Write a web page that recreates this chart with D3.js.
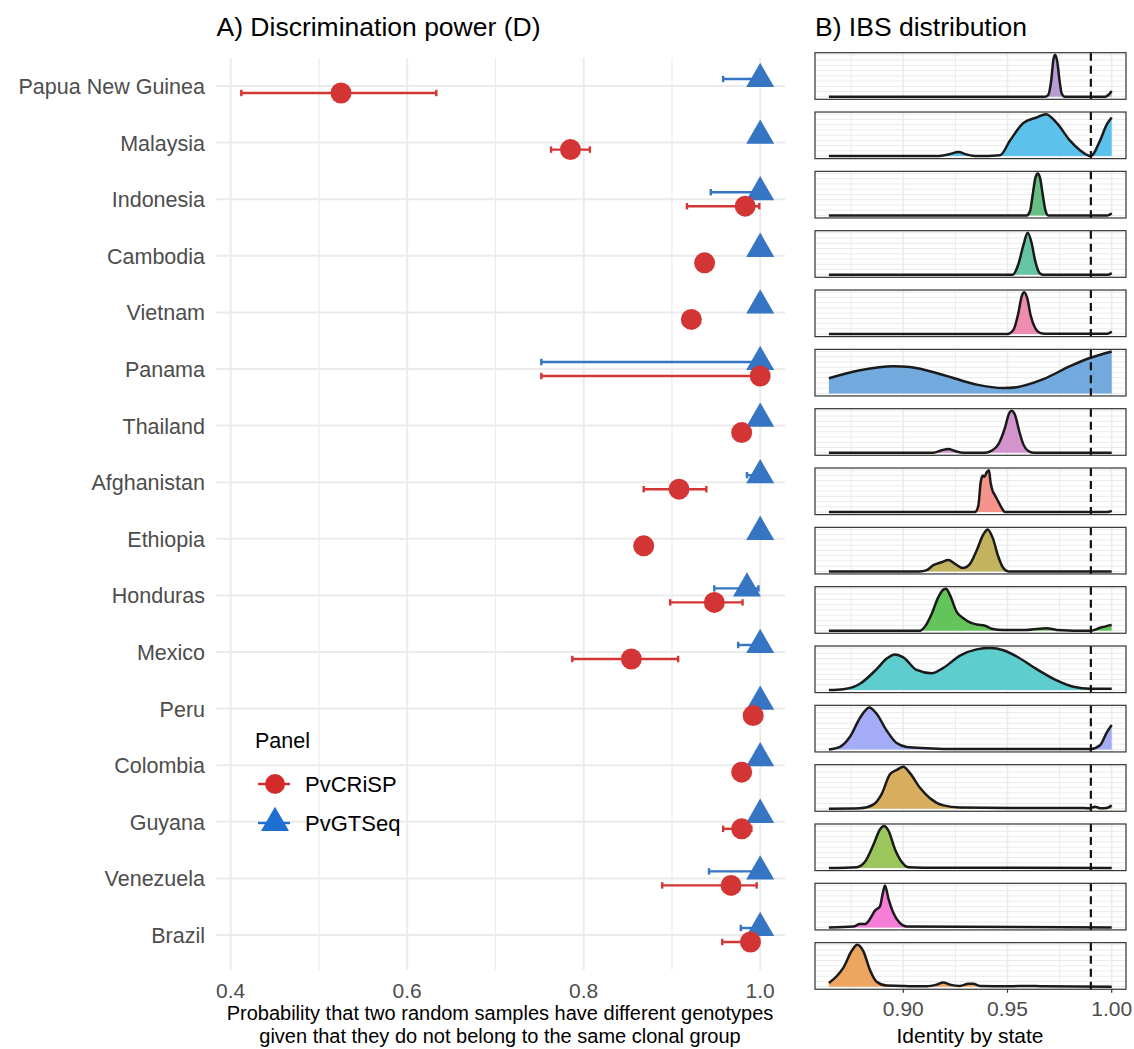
<!DOCTYPE html>
<html><head><meta charset="utf-8">
<script src="https://cdn.jsdelivr.net/npm/d3@7"></script>
<style>
body{margin:0;background:#fff}
text{font-family:"Liberation Sans",Arial,Helvetica,sans-serif}
</style>
</head><body>
<svg id="chart" width="1134" height="1049"></svg>
<script>
// ---------- DATA ----------
const countries = ["Papua New Guinea","Malaysia","Indonesia","Cambodia","Vietnam","Panama","Thailand","Afghanistan","Ethiopia","Honduras","Mexico","Peru","Colombia","Guyana","Venezuela","Brazil"];

// Panel A: discrimination power D (PvCRiSP = red circles, PvGTSeq = blue triangles)
const crispD  = [0.525, 0.785, 0.983, 0.937, 0.922, 1.000, 0.979, 0.908, 0.868, 0.948, 0.854, 0.992, 0.979, 0.979, 0.967, 0.989];
const crispLo = [0.412, 0.763, 0.917, null,  0.919, 0.752, null,  0.868, null,  0.898, 0.787, null,  null,  0.958, 0.889, 0.957];
const crispHi = [0.633, 0.807, 0.999, null,  0.928, 1.000, null,  0.939, null,  0.980, 0.907, null,  null,  0.990, 0.996, 0.995];
const gtD     = [1.000, 1.000, 1.000, 1.000, 1.000, 1.000, 1.000, 1.000, 1.000, 0.985, 1.000, 1.000, 1.000, 1.000, 1.000, 1.000];
const gtLo    = [0.958, null,  0.944, null,  null,  0.752, null,  0.985, null,  0.948, 0.975, null,  null,  null,  0.942, 0.978];
const gtHi    = [1.000, null,  1.000, null,  null,  1.000, null,  1.000, null,  0.998, 1.000, null,  null,  null,  1.000, 1.000];
const panels  = ["PvCRiSP","PvGTSeq"];

const xTicksA = [0.4, 0.6, 0.8, 1.0];
const xMinorA = [0.5, 0.7, 0.9];
const xTicksB = [0.90, 0.95, 1.00];
const xMinorB = [0.875, 0.925, 0.975];
const ibsThreshold = 0.99;

// Panel B: IBS density curves (IBS, relative density)
const densPNG = [[0.8643,0],[0.968,0],[0.9695,0.04],[0.971,0.4],[0.972,0.88],[0.9728,1],[0.9738,0.86],[0.975,0.38],[0.976,0.08],[0.9775,0],[0.997,0],[0.9985,0.05],[1.0,0.14]];
const densMalaysia = [[0.8643,0],[0.916,0],[0.9224,0.05],[0.9264,0.1],[0.9304,0.04],[0.9352,0],[0.9464,0.02],[0.9512,0.37],[0.9576,0.79],[0.964,0.92],[0.9685,1],[0.9736,0.79],[0.98,0.37],[0.9848,0.14],[0.9899,0.0],[0.9944,0.37],[0.9976,0.75],[1.0,0.92]];
const densIndonesia = [[0.8643,0],[0.9592,0],[0.9608,0.1],[0.9621,0.5],[0.9634,0.9],[0.9645,1],[0.9656,0.9],[0.9669,0.5],[0.9682,0.12],[0.9696,0],[0.998,0],[1.0,0.05]];
const densCambodia = [[0.8643,0],[0.9525,0],[0.9552,0.25],[0.9576,0.7],[0.9597,1],[0.9616,0.75],[0.9632,0.35],[0.9656,0.03],[0.9672,0],[0.998,0],[1.0,0.04]];
const densVietnam = [[0.8643,0],[0.9496,0],[0.9528,0.1],[0.9552,0.5],[0.9568,0.9],[0.958,1],[0.9595,0.85],[0.9611,0.45],[0.9632,0.15],[0.9656,0.03],[0.968,0.01],[0.998,0.01],[1.0,0.06]];
const densPanama = [[0.8643,0.36],[0.8792,0.55],[0.8952,0.65],[0.9032,0.63],[0.9192,0.44],[0.9352,0.21],[0.948,0.13],[0.9544,0.15],[0.9672,0.34],[0.98,0.65],[0.9899,0.85],[1.0,1.0]];
const densThailand = [[0.8643,0],[0.9144,0],[0.9184,0.06],[0.9216,0.09],[0.9248,0.04],[0.9288,0],[0.9392,0],[0.9424,0.05],[0.9456,0.2],[0.9488,0.6],[0.9507,0.93],[0.952,1],[0.9536,0.9],[0.9557,0.5],[0.9576,0.2],[0.96,0.04],[0.9624,0],[1.0,0]];
const densAfghanistan = [[0.8643,0],[0.9344,0],[0.936,0.15],[0.9371,0.7],[0.9381,0.87],[0.9389,0.84],[0.94,0.95],[0.9411,1],[0.9419,0.7],[0.9429,0.5],[0.944,0.4],[0.9456,0.25],[0.9472,0.1],[0.9488,0],[0.998,0],[1.0,0.03]];
const densEthiopia = [[0.8643,0],[0.908,0],[0.9112,0.03],[0.9144,0.15],[0.9184,0.22],[0.9216,0.27],[0.9248,0.18],[0.9285,0.08],[0.932,0.18],[0.9352,0.5],[0.9384,0.88],[0.9405,1],[0.9429,0.8],[0.9456,0.35],[0.948,0.08],[0.9504,0],[1.0,0]];
const densHonduras = [[0.8643,0],[0.908,0],[0.9104,0.1],[0.9136,0.4],[0.9168,0.8],[0.9192,0.98],[0.9205,1],[0.9224,0.85],[0.9256,0.45],[0.9288,0.3],[0.932,0.2],[0.9352,0.15],[0.9392,0.12],[0.9424,0.05],[0.948,0.02],[0.9592,0.02],[0.9688,0.06],[0.9736,0.02],[0.9899,0],[0.9944,0.07],[1.0,0.14]];
const densMexico = [[0.8643,0],[0.8712,0.02],[0.8792,0.15],[0.8872,0.5],[0.892,0.75],[0.896,0.85],[0.9,0.78],[0.9064,0.48],[0.9136,0.4],[0.9192,0.53],[0.9272,0.82],[0.9352,0.97],[0.9416,1],[0.948,0.95],[0.9544,0.8],[0.964,0.5],[0.9736,0.23],[0.9816,0.08],[0.9899,0.03],[1.0,0.03]];
const densPeru = [[0.8643,0],[0.8696,0.06],[0.8744,0.3],[0.8792,0.75],[0.8837,1],[0.8872,0.85],[0.892,0.45],[0.8968,0.15],[0.9016,0.06],[0.9112,0.03],[0.9272,0.01],[0.9832,0.01],[0.9899,0.01],[0.9944,0.1],[0.9976,0.4],[1.0,0.58]];
const densColombia = [[0.8643,0],[0.8792,0.01],[0.8856,0.1],[0.8896,0.35],[0.8936,0.82],[0.8971,0.93],[0.9,1],[0.9032,0.85],[0.908,0.5],[0.9128,0.25],[0.9192,0.08],[0.9272,0.03],[0.9512,0.02],[0.9832,0.02],[0.9896,0.01],[0.992,0.05],[0.9944,0.01],[0.9976,0.02],[1.0,0.08]];
const densGuyana = [[0.8643,0],[0.8776,0.02],[0.8816,0.15],[0.8856,0.55],[0.8888,0.92],[0.8907,1],[0.8928,0.9],[0.896,0.45],[0.8992,0.15],[0.9024,0.02],[0.9096,0.01],[1.0,0]];
const densVenezuela = [[0.8643,0],[0.876,0.02],[0.8792,0.08],[0.8816,0.08],[0.884,0.2],[0.8864,0.4],[0.8888,0.5],[0.8901,0.8],[0.8912,1],[0.8928,0.7],[0.8952,0.35],[0.8984,0.1],[0.9016,0.02],[1.0,0]];
const densBrazil = [[0.8643,0.09],[0.868,0.25],[0.8712,0.45],[0.8752,0.85],[0.8779,1],[0.8808,0.85],[0.884,0.4],[0.8872,0.12],[0.892,0.03],[0.9,0.02],[0.9032,0.01],[0.9112,0.01],[0.916,0.05],[0.9192,0.1],[0.9224,0.05],[0.9272,0.02],[0.9312,0.07],[0.9336,0.07],[0.9368,0.02],[0.9512,0.01],[0.9592,0.02],[0.9672,0.01],[1.0,0]];

const densities = [densPNG, densMalaysia, densIndonesia, densCambodia, densVietnam, densPanama, densThailand, densAfghanistan, densEthiopia, densHonduras, densMexico, densPeru, densColombia, densGuyana, densVenezuela, densBrazil];
const fillColors = ["#b79dd2","#5cc2ec","#66c083","#64c4a3","#f08bb2","#72aade","#d394cd","#f4948a","#c4b35e","#64c45c","#5ecdcd","#a4acf8","#d9ad5e","#9bc65c","#f67ed8","#eea560"];

// ---------- DRAW ----------
const svg = d3.select("#chart");
const red = "#d33535", blue = "#3674c4";
const grid = "#ebebeb";

function txt(g, x, y, s, size, opts = {}) {
  const sx = opts.sx || 1;
  return g.append("text")
    .attr("transform", `translate(${x},${y}) scale(${sx},1)`)
    .attr("text-anchor", opts.anchor || "start")
    .attr("dominant-baseline", "central")
    .attr("font-size", size)
    .attr("fill", opts.fill || "#000")
    .text(s);
}

// ----- Panel A -----
const A = {left: 216, right: 785, top: 58, bottom: 970};
const x = d3.scaleLinear().domain([0.4, 1.0]).range([230.7, 760.2]);
const y = d3.scalePoint().domain(countries).range([86, 935]);
const dodge = 7;
const gA = svg.append("g");

gA.selectAll("line.minor").data(xMinorA).join("line")
  .attr("x1", d => x(d)).attr("x2", d => x(d)).attr("y1", A.top).attr("y2", A.bottom)
  .attr("stroke", grid).attr("stroke-width", 1.2);
gA.selectAll("line.major").data(xTicksA).join("line")
  .attr("x1", d => x(d)).attr("x2", d => x(d)).attr("y1", A.top).attr("y2", A.bottom)
  .attr("stroke", grid).attr("stroke-width", 2);
gA.selectAll("line.hgrid").data(countries).join("line")
  .attr("x1", A.left).attr("x2", A.right).attr("y1", d => y(d)).attr("y2", d => y(d))
  .attr("stroke", grid).attr("stroke-width", 2);

// legend
const lg = svg.append("g");
txt(lg, 255, 741, "Panel", 21.5);
lg.append("line").attr("x1", 258).attr("x2", 290).attr("y1", 784).attr("y2", 784).attr("stroke", "#d42a2a").attr("stroke-width", 2.4);
lg.append("circle").attr("cx", 275).attr("cy", 784).attr("r", 10).attr("fill", "#d42a2a");
txt(lg, 305, 784, panels[0], 22);
lg.append("line").attr("x1", 258).attr("x2", 290).attr("y1", 823).attr("y2", 823).attr("stroke", "#1d6fd2").attr("stroke-width", 2.4);
lg.append("path").attr("d", d3.symbol(d3.symbolTriangle, 340)()).attr("transform", "translate(275,823)").attr("fill", "#1d6fd2");
txt(lg, 305, 823, panels[1], 22);

function errbars(lo, hi, off, color) {
  const rows = countries.map((c, i) => ({c, lo: lo[i], hi: hi[i]})).filter(d => d.lo != null);
  const g = gA.append("g").attr("stroke", color).attr("stroke-width", 2.4);
  rows.forEach(d => {
    const yy = y(d.c) + off;
    g.append("line").attr("x1", x(d.lo)).attr("x2", x(d.hi)).attr("y1", yy).attr("y2", yy);
    g.append("line").attr("x1", x(d.lo)).attr("x2", x(d.lo)).attr("y1", yy - 3.2).attr("y2", yy + 3.2);
    g.append("line").attr("x1", x(d.hi)).attr("x2", x(d.hi)).attr("y1", yy - 3.2).attr("y2", yy + 3.2);
  });
}
errbars(gtLo, gtHi, -dodge, blue);
errbars(crispLo, crispHi, dodge, red);

gA.selectAll("path.tri").data(countries).join("path")
  .attr("d", d3.symbol(d3.symbolTriangle, 340)())
  .attr("transform", (d, i) => `translate(${x(gtD[i])},${y(d) - dodge})`)
  .attr("fill", blue);
gA.selectAll("circle.pt").data(countries).join("circle")
  .attr("cx", (d, i) => x(crispD[i])).attr("cy", d => y(d) + dodge).attr("r", 10.5)
  .attr("fill", red);

// axis labels A
countries.forEach(c => txt(gA, 205, y(c) + 1, c, 21.5, {anchor: "end", fill: "#4d4d4d"}));
xTicksA.forEach(t => txt(gA, x(t), 990, d3.format(".1f")(t), 21, {anchor: "middle", fill: "#4d4d4d"}));
txt(gA, 500, 1013, "Probability that two random samples have different genotypes", 20, {anchor: "middle"});
txt(gA, 500, 1036, "given that they do not belong to the same clonal group", 20, {anchor: "middle"});
txt(gA, 216.5, 27, "A) Discrimination power (D)", 26.5);

// ----- Panel B -----
const B = {left: 815, right: 1126};
const xb = d3.scaleLinear().domain([0.9, 1.0]).range([903.3, 1111.7]);
const fTop0 = 52.7, fStep = 59.33, fH = 46.6;
const gB = svg.append("g");
txt(gB, 815, 27, "B) IBS distribution", 26.5);

densities.forEach((dens, i) => {
  const top = fTop0 + i * fStep, bot = top + fH;
  const yb = d3.scaleLinear().domain([0, 1]).range([bot - fH * 0.05 / 1.1 - 0.4, top + fH * 0.05 / 1.1]);
  const g = gB.append("g");
  g.append("rect").attr("x", B.left).attr("y", top).attr("width", B.right - B.left).attr("height", fH).attr("fill", "#fff");
  d3.range(0, 1.0001, 0.125).forEach(v => {
    g.append("line").attr("x1", B.left).attr("x2", B.right).attr("y1", yb(v)).attr("y2", yb(v))
      .attr("stroke", grid).attr("stroke-width", 1);
  });
  xMinorB.concat(xTicksB).forEach(v => {
    g.append("line").attr("x1", xb(v)).attr("x2", xb(v)).attr("y1", top).attr("y2", bot)
      .attr("stroke", grid).attr("stroke-width", xTicksB.includes(v) ? 1.6 : 1);
  });
  const area = d3.area().x(d => xb(d[0])).y0(yb(0)).y1(d => yb(d[1])).curve(d3.curveMonotoneX);
  const line = d3.line().x(d => xb(d[0])).y(d => yb(d[1])).curve(d3.curveMonotoneX);
  g.append("path").attr("d", area(dens)).attr("fill", fillColors[i]);
  g.append("path").attr("d", line(dens)).attr("fill", "none").attr("stroke", "#1a1a1a").attr("stroke-width", 2.5);
  g.append("line").attr("x1", xb(ibsThreshold)).attr("x2", xb(ibsThreshold)).attr("y1", top).attr("y2", bot)
    .attr("stroke", "#111").attr("stroke-width", 2.2).attr("stroke-dasharray", "8,5");
  g.append("rect").attr("x", B.left).attr("y", top).attr("width", B.right - B.left).attr("height", fH)
    .attr("fill", "none").attr("stroke", "#333").attr("stroke-width", 1.2);
});
const lastBot = fTop0 + (densities.length - 1) * fStep + fH;
xTicksB.forEach(t => {
  gB.append("line").attr("x1", xb(t)).attr("x2", xb(t)).attr("y1", lastBot).attr("y2", lastBot + 3.5)
    .attr("stroke", "#333").attr("stroke-width", 1.2);
  txt(gB, xb(t), 1008, d3.format(".2f")(t), 21, {anchor: "middle", fill: "#4d4d4d"});
});
txt(gB, 970, 1035, "Identity by state", 21, {anchor: "middle"});
</script>
</body></html>
